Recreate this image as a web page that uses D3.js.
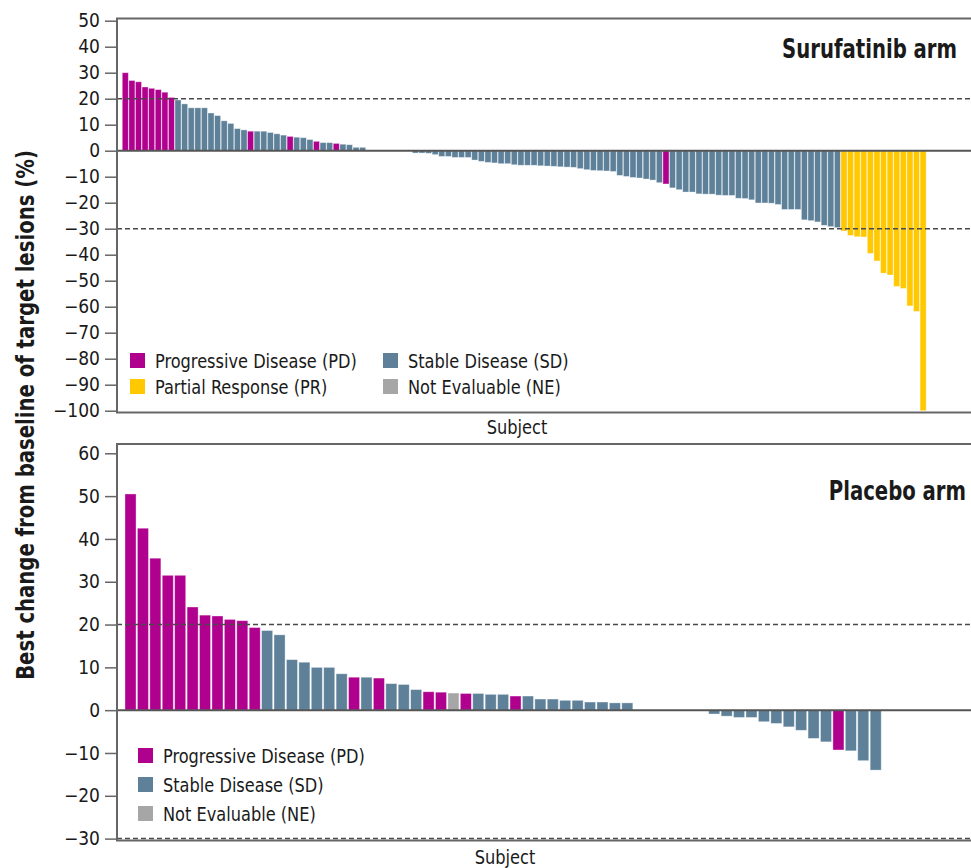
<!DOCTYPE html>
<html>
<head>
<meta charset="utf-8">
<script src="https://cdn.jsdelivr.net/npm/d3@7"></script>
<style>
  html, body { margin: 0; padding: 0; background: #fff; }
  svg { display: block; }
  text { font-family: "Liberation Sans Narrow", "DejaVu Sans Condensed", "Open Sans", sans-serif; fill: #1a1a1a; }
</style>
</head>
<body>
<svg id="chart" width="971" height="868"></svg>
<script>
// ---------------- DATA ----------------
const responseCategories = ["PD", "SD", "PR", "NE"];
const responseLabels = ["Progressive Disease (PD)", "Stable Disease (SD)", "Partial Response (PR)", "Not Evaluable (NE)"];
const responseColors = ["#B0008E", "#5E8199", "#FFC800", "#A6A6A6"];

const topTicks = [50, 40, 30, 20, 10, 0, -10, -20, -30, -40, -50, -60, -70, -80, -90, -100];
const bottomTicks = [60, 50, 40, 30, 20, 10, 0, -10, -20, -30];
const thresholds = [20, -30];

// Surufatinib arm, sorted best change (%)
const surufatinibValues = [
  30, 27, 26.5, 24.5, 24, 23.5, 22.5, 20.5,
  19.5, 18, 16.5, 16.5, 16.5, 14.5, 13.5, 11.5, 10.5, 8.5, 8,
  7.5,
  7.5, 7.5, 7, 6.5, 6,
  5.5,
  5.2, 5, 4.3,
  3.6,
  3.1, 3.1,
  2.8,
  2.5, 2.3, 1.3, 1.3,
  0, 0, 0, 0, 0, 0, 0,
  -0.9, -0.9, -1.0, -1.5, -2.2, -2.2, -2.6, -2.6, -2.6, -3.6, -4.1, -4.5, -4.7, -5.0, -5.0, -5.4, -5.6, -5.6, -5.6,
  -5.8, -5.9, -6.0, -6.2, -6.3, -6.4, -6.9, -7.3, -7.6, -7.7, -7.8, -8.0, -9.5, -9.9, -10.3, -10.5, -10.9, -11.3, -12.3,
  -12.8,
  -14.3, -15, -15.9, -15.9, -16.6, -16.7, -16.7, -17.1, -17.2, -17.2, -18.3, -18.4, -18.9, -20.1, -20.1, -20.2, -20.7,
  -22.6, -22.6, -22.6, -26.6, -26.9, -27.4, -28.7, -29.2, -29.6,
  -30.9, -32.6, -33.1, -33.2, -39.5, -42.4, -47.1, -47.8, -52.2, -53, -59.7, -61.8, -100
];
const surufatinibResponse = [
  "PD","PD","PD","PD","PD","PD","PD","PD",
  "SD","SD","SD","SD","SD","SD","SD","SD","SD","SD","SD",
  "PD",
  "SD","SD","SD","SD","SD",
  "PD",
  "SD","SD","SD",
  "PD",
  "SD","SD",
  "PD",
  "SD","SD","SD","SD",
  "SD","SD","SD","SD","SD","SD","SD",
  "SD","SD","SD","SD","SD","SD","SD","SD","SD","SD","SD","SD","SD","SD","SD","SD","SD","SD","SD",
  "SD","SD","SD","SD","SD","SD","SD","SD","SD","SD","SD","SD","SD","SD","SD","SD","SD","SD","SD",
  "PD",
  "SD","SD","SD","SD","SD","SD","SD","SD","SD","SD","SD","SD","SD","SD","SD","SD","SD",
  "SD","SD","SD","SD","SD","SD","SD","SD","SD",
  "PR","PR","PR","PR","PR","PR","PR","PR","PR","PR","PR","PR","PR"
];

// Placebo arm, sorted best change (%)
const placeboValues = [
  50.5, 42.5, 35.5, 31.5, 31.5, 24.1, 22.2, 22.0, 21.2, 20.9, 19.3,
  18.6, 17.6, 11.8, 11.2, 10.0, 10.0, 8.5,
  7.7, 7.7, 7.5,
  6.2, 6.0, 4.8,
  4.3, 4.2, 4.0, 3.9,
  3.9, 3.7, 3.7,
  3.3,
  3.3, 2.6, 2.6, 2.3, 2.3, 1.9, 1.9, 1.7, 1.7,
  0, 0, 0, 0, 0, 0,
  -0.9, -1.4, -1.7, -1.7, -2.7, -3.1, -3.9, -4.7, -6.6, -7.4,
  -9.3,
  -9.5, -11.8, -14.0
];
const placeboResponse = [
  "PD","PD","PD","PD","PD","PD","PD","PD","PD","PD","PD",
  "SD","SD","SD","SD","SD","SD","SD",
  "PD","SD","PD",
  "SD","SD","SD",
  "PD","PD","NE","PD",
  "SD","SD","SD",
  "PD",
  "SD","SD","SD","SD","SD","SD","SD","SD","SD",
  "SD","SD","SD","SD","SD","SD",
  "SD","SD","SD","SD","SD","SD","SD","SD","SD","SD",
  "PD",
  "SD","SD","SD"
];

// ---------------- LAYOUT ----------------
const svg = d3.select("#chart");
const axisX = 117, rightX = 971;
const color = d3.scaleOrdinal().domain(responseCategories).range(responseColors);
const labelOf = d3.scaleOrdinal().domain(responseCategories).range(responseLabels);

const panels = [
  {
    values: surufatinibValues, response: surufatinibResponse, ticks: topTicks,
    domain: [-100, 50], yRange: [410.7, 20.7], boxTop: 18.5, boxBottom: 412.5,
    xRange: [122.0, 926.4], padInner: 0.08,
    title: "Surufatinib arm", titleX: 957, titleY: 58, titleScale: 0.81,
    subjectX: 517, subjectY: 434,
    legend: { cats: ["PD", "SD", "PR", "NE"], x0: 130, colW: 253, y0: 353, rowH: 26, cols: 2 }
  },
  {
    values: placeboValues, response: placeboResponse, ticks: bottomTicks,
    domain: [-30, 60], yRange: [838.6, 453.3], boxTop: 444, boxBottom: 840.5,
    xRange: [124.3, 881.9], padInner: 0.11,
    title: "Placebo arm", titleX: 966, titleY: 500, titleScale: 0.81,
    subjectX: 505, subjectY: 864,
    legend: { cats: ["PD", "SD", "NE"], x0: 138, colW: 0, y0: 748, rowH: 29, cols: 1 }
  }
];

panels.forEach(p => {
  const g = svg.append("g");
  const idx = d3.range(p.values.length);
  const x = d3.scaleBand().domain(idx).range(p.xRange)
    .paddingInner(p.padInner).paddingOuter(p.padInner / 2);
  const y = d3.scaleLinear().domain(p.domain).range(p.yRange);

  // bars
  g.append("g").selectAll("rect").data(idx).join("rect")
    .attr("x", i => x(i))
    .attr("width", x.bandwidth())
    .attr("y", i => y(Math.max(0, p.values[i])))
    .attr("height", i => Math.abs(y(p.values[i]) - y(0)))
    .attr("fill", i => color(p.response[i]))
    .attr("stroke", "#ffffff")
    .attr("stroke-opacity", 0.45)
    .attr("stroke-width", 0.8);

  // threshold dashed lines
  g.append("g").selectAll("line").data(thresholds).join("line")
    .attr("x1", axisX).attr("x2", rightX)
    .attr("y1", d => y(d)).attr("y2", d => y(d))
    .attr("stroke", "#4a4a4a").attr("stroke-width", 1.5)
    .attr("stroke-dasharray", "5,3");

  // zero line
  g.append("line")
    .attr("x1", axisX).attr("x2", rightX)
    .attr("y1", y(0)).attr("y2", y(0))
    .attr("stroke", "#555").attr("stroke-width", 2);

  // frame (top, left, bottom)
  g.append("path")
    .attr("d", `M${rightX},${p.boxTop}H${axisX}V${p.boxBottom}H${rightX}`)
    .attr("fill", "none").attr("stroke", "#666").attr("stroke-width", 2);

  // y axis
  const axis = d3.axisLeft(y).tickValues(p.ticks).tickSize(12).tickPadding(5).tickFormat(d3.format("d"));
  const ag = g.append("g").attr("transform", `translate(${axisX},0)`).call(axis);
  ag.select(".domain").remove();
  ag.selectAll(".tick line").attr("stroke", "#666").attr("stroke-width", 1.5);
  ag.selectAll(".tick text").style("font-size", "19px").attr("fill", "#1a1a1a")
    .style("font-family", "'Liberation Sans Narrow', 'DejaVu Sans Condensed', sans-serif");

  // title (horizontally condensed to match the narrow face)
  g.append("text")
    .attr("transform", `translate(${p.titleX},${p.titleY}) scale(${p.titleScale},1)`)
    .attr("text-anchor", "end").style("font-size", "27px").style("font-weight", "bold")
    .text(p.title);

  // x label
  g.append("text")
    .attr("transform", `translate(${p.subjectX},${p.subjectY}) scale(0.95,1)`)
    .attr("text-anchor", "middle").style("font-size", "19px").text("Subject");

  // legend
  const L = p.legend;
  const lg = g.append("g").selectAll("g").data(L.cats).join("g")
    .attr("transform", (d, i) => `translate(${L.x0 + (i % L.cols) * L.colW},${L.y0 + Math.floor(i / L.cols) * L.rowH})`);
  lg.append("rect").attr("width", 15).attr("height", 15).attr("fill", d => color(d));
  lg.append("text").attr("transform", "translate(25,15) scale(0.9,1)")
    .style("font-size", "20px").text(d => labelOf(d));
});

// shared y-axis title
svg.append("text")
  .attr("transform", "translate(34,415) rotate(-90) scale(0.875,1)")
  .attr("text-anchor", "middle")
  .style("font-size", "25px").style("font-weight", "bold")
  .text("Best change from baseline of target lesions (%)");
</script>
</body>
</html>
